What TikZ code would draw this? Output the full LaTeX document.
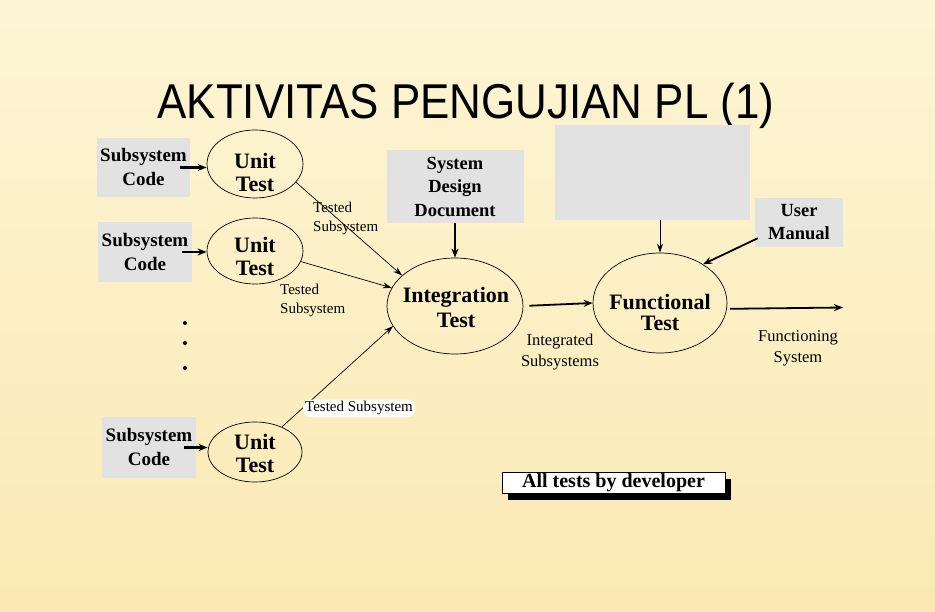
\documentclass[tikz,border=0pt]{standalone}
\usepackage{fontspec}
\setmainfont{Liberation Serif}
\newfontfamily\titlefont{Liberation Sans}
\usetikzlibrary{arrows.meta,shapes.geometric,shadows}
\definecolor{bgtop}{RGB}{253,245,212}
\definecolor{bgbot}{RGB}{250,233,180}
\definecolor{boxgray}{RGB}{226,226,226}
\begin{document}
\begin{tikzpicture}[x=1pt,y=-1pt,
  gbox/.style={fill=boxgray,draw=none,inner sep=0pt,align=center,
    font=\fontsize{19}{24}\selectfont\bfseries},
  ell/.style={ellipse,draw=black,line width=0.7pt,inner sep=0pt},
  etext/.style={align=center,inner sep=0pt,font=\fontsize{22}{23}\selectfont\bfseries},
  lbl/.style={align=left,inner sep=0pt,font=\fontsize{15}{19.5}\selectfont},
  lblc/.style={align=center,inner sep=0pt,font=\fontsize{16.5}{21}\selectfont},
  thick arr/.style={-{Stealth[length=9pt,width=7pt]},line width=1.8pt},
  thin arr/.style={-{Stealth[length=9pt,width=6pt]},line width=0.7pt},
  dotmark/.style={circle,fill=black,inner sep=0pt,minimum size=4pt}]
\useasboundingbox (0,0) rectangle (935,612);
\shade[top color=bgtop,bottom color=bgbot] (0,0) rectangle (935,612);

% title
\node[anchor=base,inner sep=0pt] (title) at (466,119)
  {\scalebox{0.935}[1.04]{\titlefont\fontsize{47}{47}\selectfont AKTIVITAS PENGUJIAN PL (1)}};

% subsystem code boxes
\node[gbox,minimum width=93pt,minimum height=59pt] (b1) at (143.5,167.5) {Subsystem\\Code};
\node[gbox,minimum width=94pt,minimum height=60pt] (b2) at (145,252) {Subsystem\\Code};
\node[gbox,minimum width=94pt,minimum height=61pt] (b3) at (149,447.5) {Subsystem\\Code};

% unit test ellipses
\node[ell,minimum width=96pt,minimum height=68pt] (u1) at (255,164) {};
\node[etext] (u1t) at (255,172) {Unit\\Test};
\node[ell,minimum width=96pt,minimum height=66pt] (u2) at (255,251) {};
\node[etext] (u2t) at (255,256) {Unit\\Test};
\node[ell,minimum width=94pt,minimum height=60pt] (u3) at (255,452) {};
\node[etext] (u3t) at (255,453) {Unit\\Test};

% integration test
\node[ell,minimum width=136pt,minimum height=96pt] (int) at (455,306) {};
\node[etext,font=\fontsize{22}{25}\selectfont\bfseries] (intt) at (456,307) {Integration\\Test};

% system design document
\node[gbox,minimum width=137pt,minimum height=73pt,font=\fontsize{18.5}{23.5}\selectfont\bfseries]
  (sdd) at (455,186.5) {System\\Design\\Document};

% blank box
\node[gbox,minimum width=195pt,minimum height=95pt] (blank) at (652.5,172.5) {};

% user manual
\node[gbox,minimum width=88pt,minimum height=49pt,font=\fontsize{18.5}{23}\selectfont\bfseries]
  (um) at (799,222.5) {User\\Manual};

% functional test
\node[ell,minimum width=134pt,minimum height=100pt] (fn) at (660,303) {};
\node[etext,font=\fontsize{22}{21}\selectfont\bfseries] (fnt) at (660,312) {Functional\\Test};

% helper coordinates
\coordinate (out) at (843,307.5);
\coordinate (s1) at ([xshift=-10pt]b1.east);
\coordinate (s2) at ([xshift=-10pt]b2.east);
\coordinate (s3) at ([xshift=-12pt]b3.east);

% arrows from code boxes to unit tests
\draw[thick arr,line width=2.2pt] (s1) -- (s1 -| u1.west);
\draw[thick arr,line width=2.2pt] (s2) -- (s2 -| u2.west);
\draw[thick arr,line width=2.2pt] (s3) -- (s3 -| u3.west);

% unit tests to integration
\draw[thin arr] (u1.336) -- (int.150);
\draw[thin arr] (u2.347) -- (int.164);
\draw[thin arr] (u3.43) -- (int.198);

% inputs
\draw[thick arr] (sdd.south) -- (int.north);
\draw[thin arr] ([xshift=7.5pt]blank.south) -- (fn.north);
\draw[thick arr] ([shift={(3pt,9pt)}]um.south west) -- (fn.42);

% main flow
\draw[thick arr,shorten <=6pt] (int.east) -- (fn.west);
\draw[thick arr,shorten <=3pt] (fn.355) -- (out);

% labels
\node[lbl,anchor=west] (l1) at (313,218.5) {Tested\\Subsystem};
\node[lbl,anchor=west] (l2) at (280,300.5) {Tested\\Subsystem};
\node[lbl,anchor=base west,fill=white,rounded corners=7pt,inner xsep=2pt,inner ysep=2pt]
  (l3) at (303,412) {Tested Subsystem};
\node[lblc] (l4) at (560,352) {Integrated\\Subsystems};
\node[lblc] (l5) at (798,348) {Functioning\\System};

% dots
\node[dotmark] (d1) at (185,323) {};
\node[dotmark] (d2) at (185,343) {};
\node[dotmark] (d3) at (185,368) {};

% all tests box
\node[draw=black,fill=white,line width=0.8pt,minimum width=223pt,minimum height=21pt,inner sep=0pt,
  drop shadow={shadow xshift=6pt,shadow yshift=-6pt,opacity=1,fill=black},
  font=\fontsize{20}{20}\selectfont\bfseries] (dev) at (613.5,483) {All tests by developer};
\end{tikzpicture}
\end{document}
